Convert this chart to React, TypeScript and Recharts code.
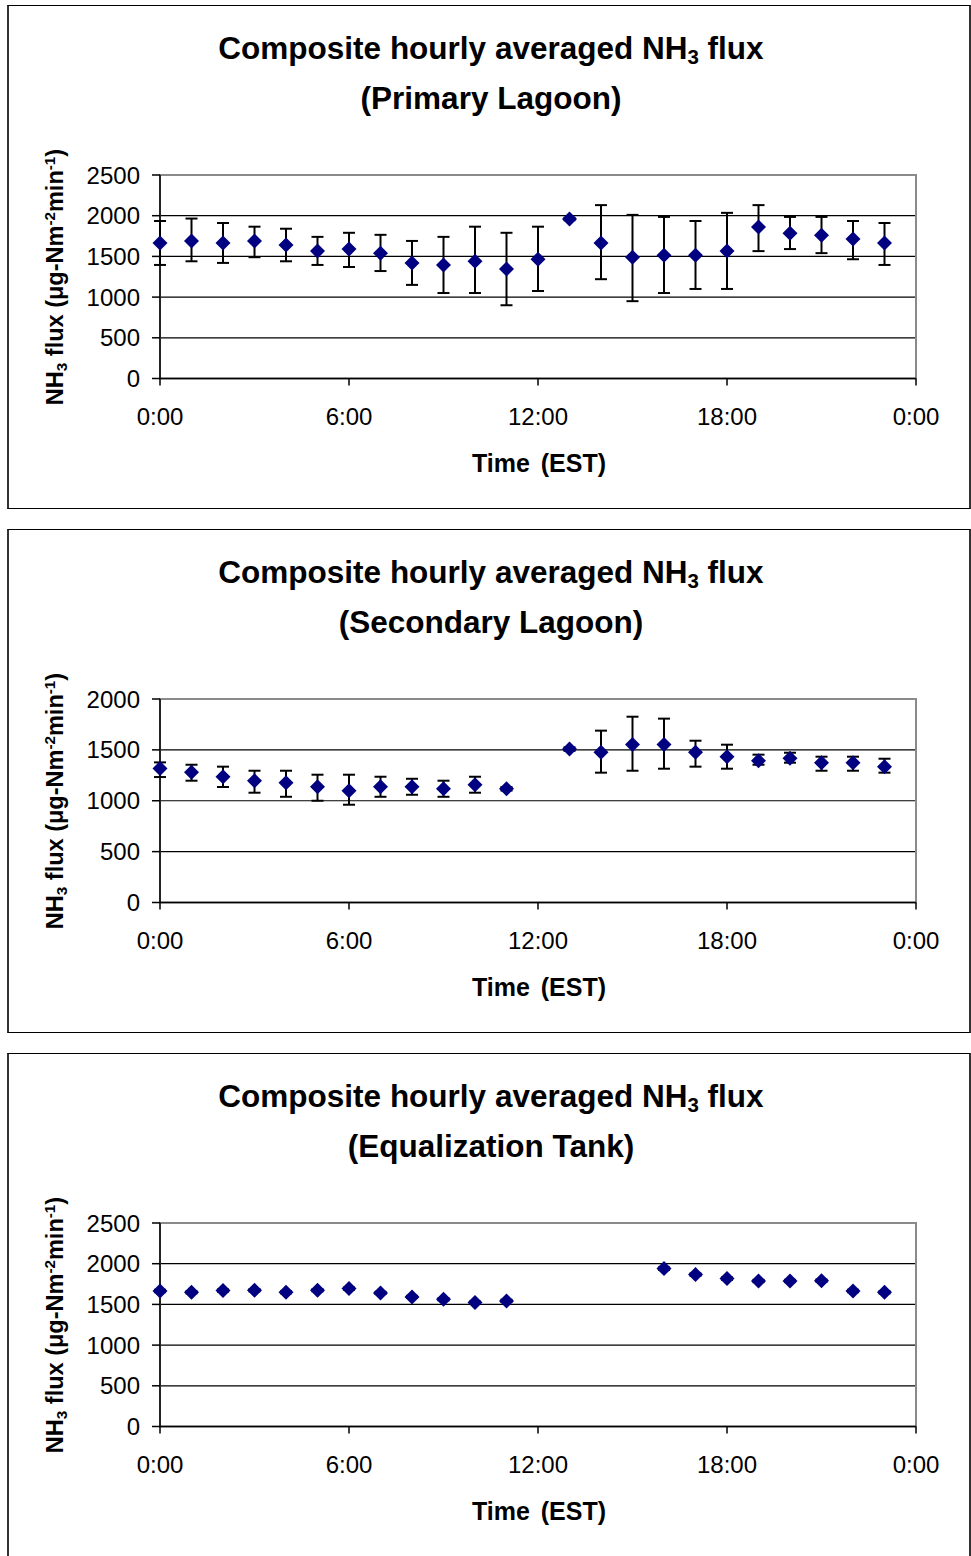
import React from "react";
import {
  ScatterChart,
  Scatter,
  XAxis,
  YAxis,
  CartesianGrid,
  ErrorBar,
  ReferenceArea,
} from "recharts";

// hours 0..23, values (µg-N m-2 min-1)
const hours = [0, 1, 2, 3, 4, 5, 6, 7, 8, 9, 10, 11, 12, 13, 14, 15, 16, 17, 18, 19, 20, 21, 22, 23];
const xTicks = [0, 6, 12, 18, 24];

const primaryMean = [1665, 1690, 1665, 1690, 1640, 1565, 1590, 1540, 1420, 1395, 1440, 1345, 1465, 1960, 1665, 1490, 1515, 1515, 1565, 1860, 1785, 1760, 1715, 1665];
const primaryUpper = [1935, 1965, 1910, 1865, 1840, 1740, 1790, 1765, 1690, 1740, 1865, 1790, 1865, 1975, 2130, 2010, 1985, 1935, 2035, 2130, 1985, 1985, 1935, 1910];
const primaryLower = [1395, 1440, 1420, 1490, 1440, 1395, 1370, 1320, 1150, 1050, 1050, 900, 1075, 1945, 1220, 950, 1050, 1100, 1100, 1565, 1590, 1540, 1465, 1395];
const primaryTicks = [0, 500, 1000, 1500, 2000, 2500];

const secondaryMean = [1318, 1279, 1236, 1197, 1177, 1138, 1098, 1138, 1138, 1118, 1157, 1118, null, 1508, 1476, 1554, 1554, 1476, 1433, 1394, 1417, 1374, 1374, 1335];
const secondaryUpper = [1377, 1354, 1335, 1295, 1295, 1256, 1256, 1236, 1216, 1197, 1236, 1135, null, 1525, 1689, 1826, 1807, 1590, 1551, 1453, 1472, 1433, 1433, 1413];
const secondaryLower = [1233, 1197, 1135, 1079, 1039, 1000, 961, 1039, 1059, 1039, 1079, 1100, null, 1490, 1276, 1295, 1315, 1335, 1315, 1354, 1374, 1295, 1295, 1276];
const secondaryTicks = [0, 500, 1000, 1500, 2000];

const eqMean = [1665, 1649, 1670, 1674, 1649, 1674, 1694, 1641, 1592, 1563, 1522, 1543, null, null, null, null, 1940, 1866, 1817, 1788, 1788, 1792, 1665, 1649];
const eqUpper = [1680, 1662, 1684, 1688, 1662, 1688, 1708, 1655, 1605, 1576, 1535, 1558, null, null, null, null, 1955, 1880, 1832, 1802, 1802, 1806, 1680, 1663];
const eqLower = [1650, 1636, 1656, 1660, 1636, 1660, 1680, 1627, 1579, 1550, 1509, 1528, null, null, null, null, 1925, 1852, 1802, 1774, 1774, 1778, 1650, 1635];
const eqTicks = [0, 500, 1000, 1500, 2000, 2500];

const FONT = 'Arial, "Liberation Sans", sans-serif';
const NAVY = "#000080";

function buildRows(mean: (number | null)[], upper: (number | null)[], lower: (number | null)[]) {
  return hours
    .map((h, i) => ({ h, m: mean[i], u: upper[i], l: lower[i] }))
    .filter((r) => r.m != null)
    .map((r) => ({
      x: r.h,
      y: r.m as number,
      err: [(r.m as number) - (r.l as number), (r.u as number) - (r.m as number)],
    }));
}

const Diamond = (props: any) => {
  const { cx, cy } = props;
  if (cx == null || cy == null) return null;
  const s = 7.5;
  return (
    <polygon
      points={`${cx},${cy - s} ${cx + s},${cy} ${cx},${cy + s} ${cx - s},${cy}`}
      fill={NAVY}
    />
  );
};

function Panel({ top, subtitle, rows, ticks }: { top: number; subtitle: string; rows: any[]; ticks: number[] }) {
  const yMax = ticks[ticks.length - 1];
  return (
    <div style={{ position: "absolute", left: 0, top, width: 971, height: 504 }}>
      <div
        style={{
          position: "absolute",
          left: 7,
          top: 0,
          width: 960,
          height: 502,
          borderTop: "1px solid #000",
          borderBottom: "1px solid #000",
          borderLeft: "2px solid #333",
          borderRight: "2px solid #333",
          background: "#fff",
        }}
      />
      <div
        style={{
          position: "absolute",
          left: 491,
          top: 20,
          transform: "translateX(-50%)",
          whiteSpace: "nowrap",
          fontFamily: FONT,
          fontWeight: "bold",
          fontSize: 31.5,
          lineHeight: "47px",
          textAlign: "center",
          color: "#000",
        }}
      >
        <div>
          Composite hourly averaged NH
          <span style={{ fontSize: "0.65em", position: "relative", top: "0.25em" }}>3</span> flux
        </div>
        <div>({subtitle})</div>
      </div>
      <div style={{ position: "absolute", left: 0, top: 0 }}>
        <ScatterChart width={971} height={504} margin={{ top: 170, right: 55, bottom: 100.5, left: 100 }}>
          <CartesianGrid horizontal vertical={false} stroke="#000" strokeWidth={1.2} />
          <ReferenceArea x1={0} x2={24} y1={0} y2={yMax} fill="none" stroke="#8a8a8a" strokeWidth={2} />
          <XAxis
            type="number"
            dataKey="x"
            domain={[0, 24]}
            ticks={xTicks}
            tickFormatter={(v: number) => `${v % 24}:00`}
            axisLine={{ stroke: "#000", strokeWidth: 1.5 }}
            tickLine={{ stroke: "#000", strokeWidth: 1.5 }}
            tickSize={7}
            tickMargin={22}
            height={30}
            tick={{ fill: "#000", fontSize: 24, fontFamily: FONT }}
            interval={0}
          />
          <YAxis
            type="number"
            dataKey="y"
            domain={[0, yMax]}
            ticks={ticks}
            axisLine={{ stroke: "#000", strokeWidth: 1.5 }}
            tickLine={{ stroke: "#000", strokeWidth: 1.5 }}
            tickSize={8}
            tickMargin={12}
            width={60}
            tick={{ fill: "#000", fontSize: 24, fontFamily: FONT }}
            interval={0}
          />
          <Scatter data={rows} fill={NAVY} shape={Diamond} isAnimationActive={false}>
            <ErrorBar dataKey="err" direction="y" width={6} stroke="#000" strokeWidth={2} isAnimationActive={false} />
          </Scatter>
        </ScatterChart>
      </div>
      <div
        style={{
          position: "absolute",
          left: 55,
          top: 272,
          transform: "translate(-50%, -50%) rotate(-90deg)",
          whiteSpace: "nowrap",
          fontFamily: FONT,
          fontWeight: "bold",
          fontSize: 23.5,
          color: "#000",
        }}
      >
        NH<span style={{ fontSize: "0.65em", position: "relative", top: "0.25em" }}>3</span> flux (μg-Nm
        <span style={{ fontSize: "0.65em", position: "relative", top: "-0.55em" }}>-2</span>min
        <span style={{ fontSize: "0.65em", position: "relative", top: "-0.55em" }}>-1</span>)
      </div>
      <div
        style={{
          position: "absolute",
          left: 539,
          top: 458,
          transform: "translate(-50%, -50%)",
          whiteSpace: "nowrap",
          fontFamily: FONT,
          fontWeight: "bold",
          fontSize: 25,
          wordSpacing: 4,
          color: "#000",
        }}
      >
        Time (EST)
      </div>
    </div>
  );
}

export default function App() {
  return (
    <div style={{ position: "absolute", left: 0, top: 0, width: 971, height: 1556, background: "#fff", overflow: "hidden" }}>
      <Panel top={5} subtitle="Primary Lagoon" rows={buildRows(primaryMean, primaryUpper, primaryLower)} ticks={primaryTicks} />
      <Panel top={529} subtitle="Secondary Lagoon" rows={buildRows(secondaryMean, secondaryUpper, secondaryLower)} ticks={secondaryTicks} />
      <Panel top={1053} subtitle="Equalization Tank" rows={buildRows(eqMean, eqUpper, eqLower)} ticks={eqTicks} />
    </div>
  );
}
